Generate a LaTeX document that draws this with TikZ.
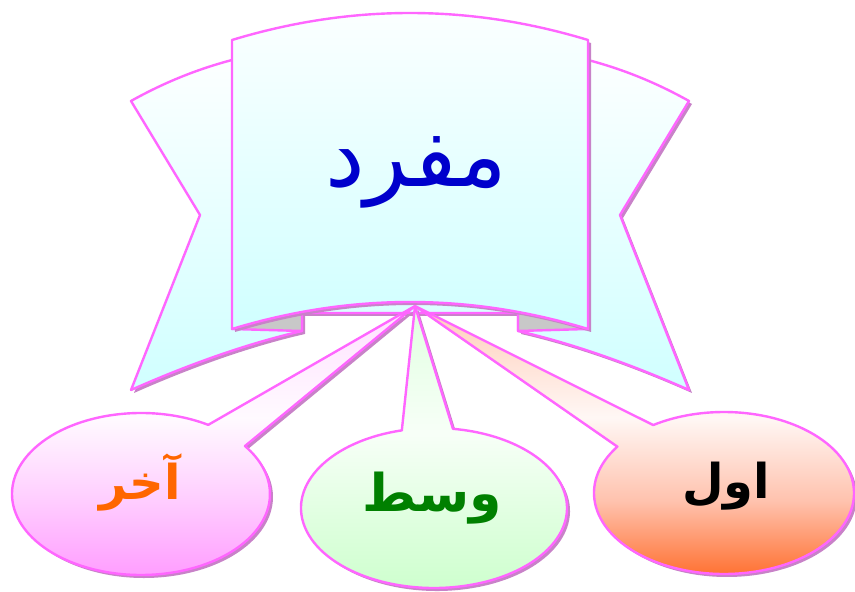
\documentclass[tikz,border=0pt]{standalone}
\usepackage{fontspec}
\newfontfamily\arabicfont[Script=Arabic]{DejaVu Sans}
\TeXXeTstate=1
\usetikzlibrary{calc}
\definecolor{edge}{RGB}{255,102,255}
\definecolor{shadowc}{RGB}{200,130,200}
\definecolor{foldgray}{RGB}{200,200,200}
\definecolor{ribtop}{RGB}{252,255,255}
\definecolor{ribbot}{RGB}{208,255,255}
\definecolor{titleblue}{RGB}{0,0,204}
\definecolor{lastorange}{RGB}{255,102,0}
\definecolor{midgreen}{RGB}{0,128,0}
\pgfdeclareverticalshading{leftsh}{100bp}{rgb(0bp)=(1,0.59,1); rgb(25bp)=(1,0.59,1); rgb(40bp)=(1,0.80,1); rgb(55bp)=(1,0.98,1); rgb(75bp)=(1,0.88,1); rgb(100bp)=(1,0.88,1)}
\pgfdeclareverticalshading{midsh}{100bp}{rgb(0bp)=(0.80,1,0.80); rgb(25bp)=(0.80,1,0.80); rgb(39bp)=(0.88,1,0.88); rgb(53bp)=(0.97,1,0.97); rgb(75bp)=(0.88,1,0.88); rgb(100bp)=(0.88,1,0.88)}
\pgfdeclareverticalshading{rightsh}{100bp}{rgb(0bp)=(1,0.40,0.13); rgb(25bp)=(1,0.40,0.13); rgb(40bp)=(1,0.76,0.68); rgb(55bp)=(1,0.97,0.96); rgb(75bp)=(1,0.80,0.72); rgb(100bp)=(1,0.80,0.72)}
\tikzset{
  outline/.style={draw=edge, line width=2.4pt, line join=round},
  shadowed/.style={fill=shadowc, transform canvas={shift={(3pt,-3pt)}}},
  ribbonfill/.style={top color=ribtop, bottom color=ribbot},
  labeltext/.style={font=\arabicfont\bfseries\fontsize{48}{58}\selectfont, inner sep=0pt}
}
\newcommand\mycallout[8]{%
  \coordinate (#8c) at (#1,#2);
  \fill[shadowed] (#8c) ++(#5:#3pt and #4pt) -- (apex) -- ($(#8c)+(#6:#3pt and #4pt)$)
     arc[start angle=#6, end angle=#5+360, x radius=#3pt, y radius=#4pt] -- cycle;
  \shadedraw[shading=#7, outline] (#8c) ++(#5:#3pt and #4pt) -- (apex) -- ($(#8c)+(#6:#3pt and #4pt)$)
     arc[start angle=#6, end angle=#5+360, x radius=#3pt, y radius=#4pt] -- cycle;
}
\begin{document}
\begin{tikzpicture}[x=1pt,y=1pt]
\useasboundingbox (0,0) rectangle (855,592);
% back ribbon
\fill[shadowed] (131,491) .. controls (165,510) and (198,523) .. (232,532) -- (588,532)
  .. controls (622,523) and (655,510) .. (689,491) -- (620,377) -- (689,202)
  .. controls (635,226) and (575,248) .. (518,261) -- (518,279) -- (302,279) -- (302,261)
  .. controls (245,248) and (185,226) .. (131,202) -- (200,377) -- cycle;
\path[ribbonfill, outline] (131,491) .. controls (165,510) and (198,523) .. (232,532) -- (588,532)
  .. controls (622,523) and (655,510) .. (689,491) -- (620,377) -- (689,202)
  .. controls (635,226) and (575,248) .. (518,261) -- (518,279) -- (302,279) -- (302,261)
  .. controls (245,248) and (185,226) .. (131,202) -- (200,377) -- cycle;
% folds
\filldraw[fill=foldgray, outline] (232,263) -- (302,261) -- (302,286) -- cycle;
\filldraw[fill=foldgray, outline] (588,263) -- (518,261) -- (518,286) -- cycle;
% front panel
\fill[shadowed] (232,263) -- (232,552) .. controls (350.7,588) and (469.3,588) .. (588,552)
  -- (588,263) .. controls (469.3,299) and (350.7,299) .. (232,263) -- cycle;
\path[ribbonfill, outline] (232,263) -- (232,552) .. controls (350.7,588) and (469.3,588) .. (588,552)
  -- (588,263) .. controls (469.3,299) and (350.7,299) .. (232,263) -- cycle;
\node[inner sep=0pt, text=titleblue, font=\arabicfont\fontsize{89}{100}\selectfont] (mufrad) at (416,420) {\beginR مفرد\endR};
% callouts
\coordinate (apex) at (415,286);
\mycallout{141}{98}{129}{81}{36.3}{58.6}{leftsh}{L}
\mycallout{434}{84}{133}{80}{81.8}{104}{midsh}{M}
\mycallout{724}{99}{130}{81}{123}{145.1}{rightsh}{R}
\node[labeltext, text=lastorange] (akhar) at (140,110) {\beginR آخر\endR};
\node[labeltext, text=midgreen, font=\arabicfont\bfseries\fontsize{52}{60}\selectfont] (wasat) at (432,94) {\beginR وسط\endR};
\node[labeltext, text=black] (awwal) at (726,106) {\beginR اول\endR};
\end{tikzpicture}
\end{document}
